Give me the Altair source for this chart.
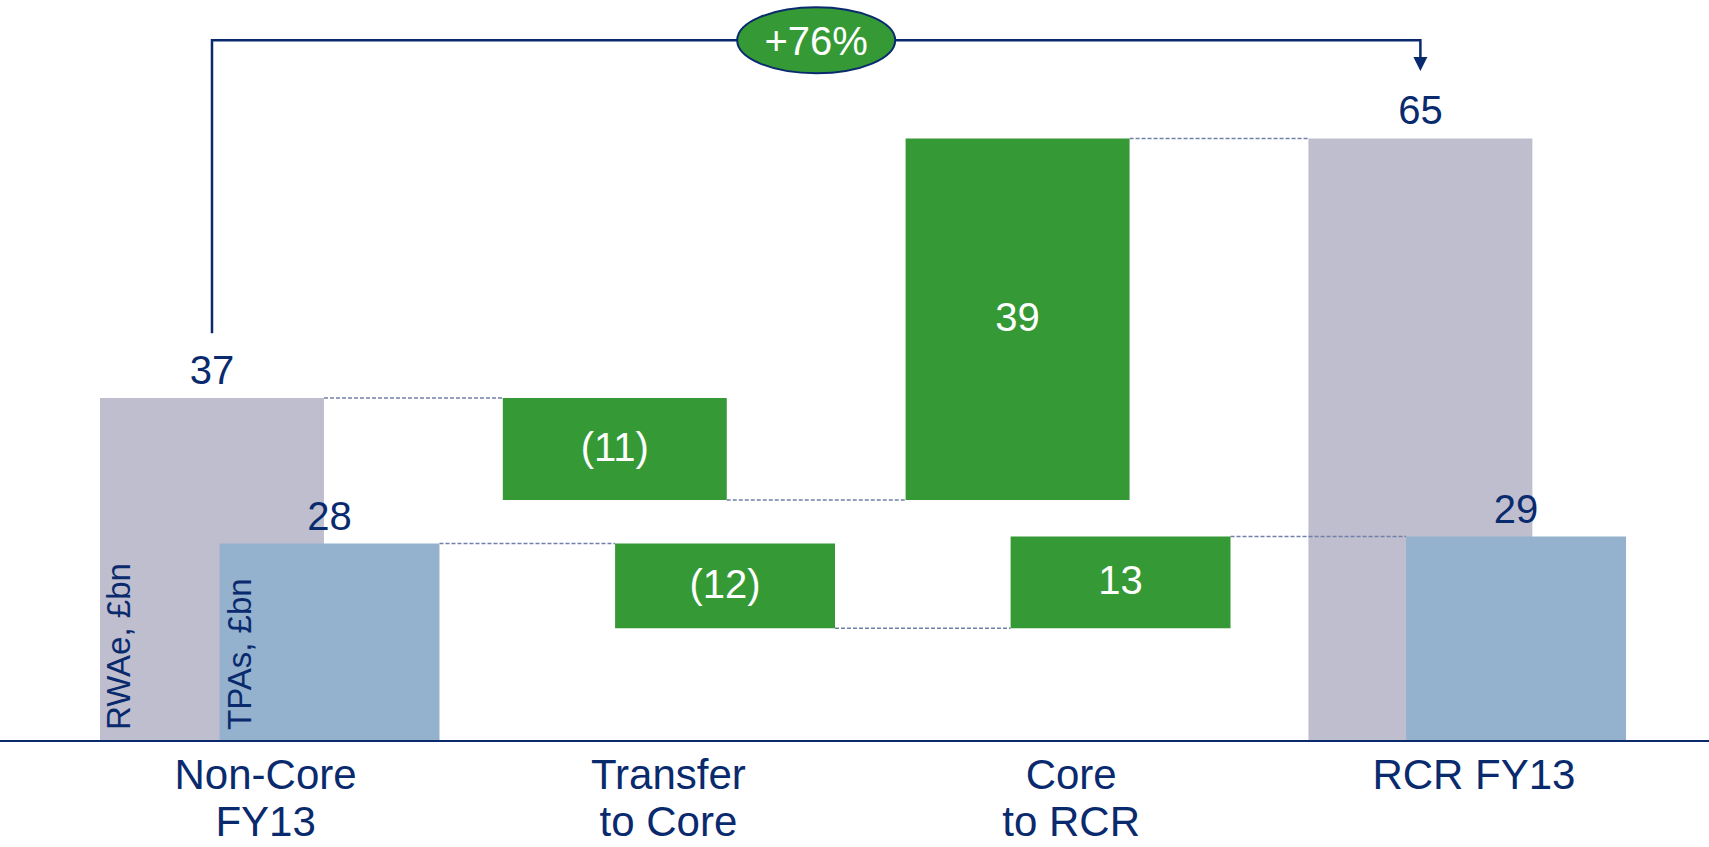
import altair as alt
import pandas as pd

# ---------------- data ----------------
categories = ["Non-Core\nFY13", "Transfer\nto Core", "Core\nto RCR", "RCR FY13"]
kinds = ["total", "change", "change", "total"]
rwae = [37, -11, 39, 65]
tpas = [28, -12, 13, 29]
series_names = ["RWAe, £bn", "TPAs, £bn"]
growth_label = "+76%"

# ---------------- style ----------------
W, H = 1709, 847
NAVY = "#0a2a6e"
GREY = "#bfbecf"
BLUE = "#94b1cd"
GREEN = "#359a35"
DASH = "#7080a8"
FONT = "Liberation Sans"
HW = 0.278  # half bar width in category units

RWAE_X = [-0.5263, 3.7165]
RWAE_Y = [-11.43, 79.94]
TPAS_X = [-0.8331, 3.4877]
TPAS_Y = [-15.04, 105.1]


def build(values):
    rows, links = [], []
    run = 0
    for i, (k, v) in enumerate(zip(kinds, values)):
        if k == "total":
            lo, hi = 0, v
            run = v
            label = str(v)
        else:
            lo, hi = run, run + v
            run += v
            label = f"({abs(v)})" if v < 0 else str(v)
        rows.append(dict(i=i, x0=i - HW, x1=i + HW, y0=min(lo, hi), y1=max(lo, hi),
                         mid=(lo + hi) / 2, kind=k, label=label))
        if i < len(values) - 1:
            links.append(dict(x0=i + HW, x1=i + 1 - HW, y=run))
    return pd.DataFrame(rows), pd.DataFrame(links)


def series_layer(values, xdom, ydom, fill, name, name_dy, extra=None):
    bars, links = build(values)
    xs = alt.Scale(domain=xdom, nice=False, zero=False)
    ys = alt.Scale(domain=ydom, nice=False, zero=False)

    link_layer = alt.Chart(links).mark_rule(color=DASH, strokeWidth=1.5, strokeDash=[4, 2]).encode(
        x=alt.X("x0:Q", scale=xs, axis=None), x2="x1:Q",
        y=alt.Y("y:Q", scale=ys, axis=None))

    bar_layer = alt.Chart(bars).mark_rect().encode(
        x=alt.X("x0:Q", scale=xs, axis=None), x2="x1:Q",
        y=alt.Y("y0:Q", scale=ys, axis=None), y2="y1:Q",
        color=alt.condition("datum.kind == 'total'", alt.value(fill), alt.value(GREEN)))

    tot_lab = alt.Chart(bars).transform_filter("datum.kind == 'total'").mark_text(
        font=FONT, fontSize=40, color=NAVY, baseline="alphabetic", dy=-14).encode(
        x=alt.X("i:Q", scale=xs, axis=None),
        y=alt.Y("y1:Q", scale=ys, axis=None), text="label:N")

    chg_lab = alt.Chart(bars).transform_filter("datum.kind == 'change'").mark_text(
        font=FONT, fontSize=40, color="white", baseline="middle").encode(
        x=alt.X("i:Q", scale=xs, axis=None),
        y=alt.Y("mid:Q", scale=ys, axis=None), text="label:N")

    name_df = pd.DataFrame({"i": [0], "y": [0], "t": [name]})
    name_lab = alt.Chart(name_df).mark_text(
        font=FONT, fontSize=33, color=NAVY, angle=270, align="left", baseline="top",
        dx=11, dy=name_dy).encode(
        x=alt.X("i:Q", scale=xs, axis=None),
        y=alt.Y("y:Q", scale=ys, axis=None), text="t:N")

    layers = [link_layer, bar_layer, tot_lab, chg_lab, name_lab]
    if extra:
        layers += extra(xs, ys)
    return alt.layer(*layers)


def rwae_extras(xs, ys):
    n = len(categories)
    cat_df = pd.DataFrame({"x": [i + 0.133 for i in range(n)], "y": [-1.6] * n, "t": categories})
    cat_lab = alt.Chart(cat_df).mark_text(
        font=FONT, fontSize=42, color=NAVY, baseline="top", lineBreak="\n", lineHeight=47).encode(
        x=alt.X("x:Q", scale=xs, axis=None),
        y=alt.Y("y:Q", scale=ys, axis=None), text="t:N")

    level = 75.6
    first, last = 0, n - 1
    br_df = pd.DataFrame({
        "x": [first, first, last, last],
        "y": [rwae[0] + 7.0, level, level, rwae[-1] + 8.8],
        "o": [0, 1, 2, 3]})
    bracket = alt.Chart(br_df).mark_line(color=NAVY, strokeWidth=2.5).encode(
        x=alt.X("x:Q", scale=xs, axis=None),
        y=alt.Y("y:Q", scale=ys, axis=None), order="o:Q")

    arrow_df = pd.DataFrame({"x": [last], "y": [rwae[-1] + 8.03]})
    arrow = alt.Chart(arrow_df).mark_point(
        shape="M -1 -1 L 1 -1 L 0 1 Z", size=196, filled=True, fill=NAVY, opacity=1, strokeWidth=0).encode(
        x=alt.X("x:Q", scale=xs, axis=None),
        y=alt.Y("y:Q", scale=ys, axis=None))

    ell_df = pd.DataFrame({"x": [(first + last) / 2], "y": [level], "t": [growth_label]})
    ellipse = alt.Chart(ell_df).mark_point(
        shape="M -1 0 A 1 0.418 0 1 1 1 0 A 1 0.418 0 1 1 -1 0 Z", size=158 ** 2,
        filled=True, fill=GREEN, stroke=NAVY, strokeWidth=2, opacity=1).encode(
        x=alt.X("x:Q", scale=xs, axis=None),
        y=alt.Y("y:Q", scale=ys, axis=None))
    ell_txt = alt.Chart(ell_df).mark_text(
        font=FONT, fontSize=40, color="white", baseline="middle", dy=3).encode(
        x=alt.X("x:Q", scale=xs, axis=None),
        y=alt.Y("y:Q", scale=ys, axis=None), text="t:N")
    return [cat_lab, bracket, arrow, ellipse, ell_txt]


def tpas_extras(xs, ys):
    base = alt.Chart(pd.DataFrame({"y": [0]})).mark_rule(color=NAVY, strokeWidth=2).encode(
        y=alt.Y("y:Q", scale=ys, axis=None))
    return [base]


rwae_layer = series_layer(rwae, RWAE_X, RWAE_Y, GREY, series_names[0], -108, rwae_extras)
tpas_layer = series_layer(tpas, TPAS_X, TPAS_Y, BLUE, series_names[1], -105, tpas_extras)

chart = alt.layer(rwae_layer, tpas_layer).resolve_scale(
    x="independent", y="independent"
).properties(
    width=W, height=H, padding=0, background="white",
    autosize=alt.AutoSizeParams(type="none")
).configure_view(strokeWidth=0)

chart.save("out.html", embed_options={"renderer": "svg", "actions": False})
